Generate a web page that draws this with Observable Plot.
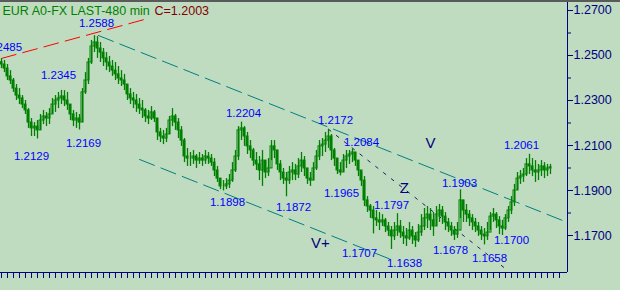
<!DOCTYPE html>
<html><head><meta charset="utf-8">
<script src="https://cdn.jsdelivr.net/npm/d3@7"></script>
<script src="https://cdn.jsdelivr.net/npm/@observablehq/plot@0.6"></script>
<style>
body{margin:0;background:#c0dcc0;}
#wrap{position:relative;width:620px;height:290px;overflow:hidden;background:#c0dcc0;}
#topline{position:absolute;left:0;top:0;width:620px;height:2px;background:#5a5a5a;}
svg{display:block}
</style></head><body><div id="wrap"><div id="topline"></div></div>
<script>
// ---- data: 480-min EUR bars (high / low / close) ----
const high = [1.2485,1.2478,1.2460,1.2433,1.2398,1.2371,1.2353,1.2322,1.2300,1.2264,
1.2220,1.2202,1.2211,1.2238,1.2256,1.2247,1.2264,1.2309,1.2322,1.2336,
1.2345,1.2344,1.2336,1.2282,1.2256,1.2247,1.2238,1.2353,1.2424,1.2487,
1.2567,1.2588,1.2584,1.2558,1.2531,1.2513,1.2496,1.2478,1.2469,1.2451,
1.2433,1.2416,1.2371,1.2353,1.2336,1.2327,1.2309,1.2300,1.2264,1.2256,
1.2273,1.2256,1.2184,1.2176,1.2167,1.2176,1.2229,1.2264,1.2238,1.2220,
1.2184,1.2131,1.2087,1.2069,1.2078,1.2060,1.2069,1.2060,1.2078,1.2069,
1.2060,1.2042,1.2007,1.1953,1.1944,1.1953,1.1971,1.2024,1.2078,1.2184,
1.2204,1.2184,1.2158,1.2122,1.2087,1.2069,1.2051,1.2078,1.2033,1.2042,
1.2122,1.2122,1.2078,1.2033,1.1998,1.1980,1.2007,1.2024,1.2016,1.2042,
1.2069,1.2051,1.1998,1.1980,1.2024,1.2078,1.2122,1.2131,1.2158,1.2172,
1.2149,1.2087,1.2042,1.2024,1.2060,1.2078,1.2078,1.2084,1.2069,1.2033,
1.1980,1.1962,1.1873,1.1838,1.1829,1.1811,1.1802,1.1793,1.1776,1.1758,
1.1740,1.1758,1.1797,1.1767,1.1740,1.1731,1.1758,1.1740,1.1713,1.1749,
1.1793,1.1820,1.1829,1.1820,1.1802,1.1829,1.1838,1.1829,1.1802,1.1776,
1.1758,1.1740,1.1758,1.1903,1.1856,1.1838,1.1811,1.1793,1.1776,1.1758,
1.1740,1.1731,1.1758,1.1802,1.1820,1.1802,1.1784,1.1767,1.1793,1.1829,
1.1873,1.1927,1.1980,1.1989,1.1998,1.2042,1.2061,1.2042,1.2033,1.2016,
1.2033,1.2024,1.2016,1.2016];
const low = [1.2442,1.2424,1.2389,1.2371,1.2336,1.2300,1.2282,1.2264,1.2238,1.2176,
1.2140,1.2140,1.2129,1.2167,1.2193,1.2184,1.2193,1.2238,1.2247,1.2264,
1.2282,1.2273,1.2256,1.2211,1.2184,1.2176,1.2169,1.2202,1.2327,1.2371,
1.2460,1.2513,1.2487,1.2469,1.2451,1.2433,1.2424,1.2407,1.2389,1.2371,
1.2362,1.2344,1.2300,1.2282,1.2264,1.2247,1.2238,1.2220,1.2202,1.2193,
1.2211,1.2202,1.2122,1.2113,1.2104,1.2113,1.2149,1.2184,1.2167,1.2131,
1.2096,1.2024,1.2007,1.2007,1.2016,1.1998,1.2016,1.2007,1.2016,1.2016,
1.2007,1.1962,1.1936,1.1904,1.1898,1.1904,1.1909,1.1936,1.1980,1.2033,
1.2122,1.2096,1.2060,1.2042,1.2007,1.1989,1.1944,1.1918,1.1953,1.1962,
1.2033,1.2042,1.1989,1.1944,1.1927,1.1872,1.1927,1.1944,1.1944,1.1953,
1.1980,1.1962,1.1927,1.1918,1.1944,1.1989,1.2033,1.2051,1.2069,1.2087,
1.2033,1.2007,1.1971,1.1965,1.1980,1.1998,1.2016,1.2024,1.2007,1.1962,
1.1918,1.1829,1.1802,1.1776,1.1707,1.1740,1.1722,1.1740,1.1713,1.1696,
1.1638,1.1678,1.1696,1.1687,1.1660,1.1651,1.1678,1.1660,1.1647,1.1669,
1.1696,1.1722,1.1731,1.1722,1.1696,1.1740,1.1758,1.1749,1.1722,1.1713,
1.1696,1.1678,1.1687,1.1776,1.1758,1.1758,1.1740,1.1722,1.1713,1.1696,
1.1678,1.1658,1.1678,1.1722,1.1758,1.1731,1.1704,1.1700,1.1722,1.1758,
1.1793,1.1829,1.1900,1.1927,1.1936,1.1962,1.1971,1.1962,1.1936,1.1944,
1.1962,1.1953,1.1962,1.1971];
const close = [1.2460,1.2442,1.2407,1.2389,1.2353,1.2322,1.2309,1.2282,1.2256,1.2202,
1.2176,1.2184,1.2167,1.2211,1.2229,1.2220,1.2238,1.2282,1.2300,1.2309,
1.2318,1.2300,1.2282,1.2238,1.2211,1.2220,1.2202,1.2336,1.2389,1.2469,
1.2540,1.2558,1.2531,1.2513,1.2487,1.2469,1.2451,1.2433,1.2416,1.2398,
1.2389,1.2371,1.2327,1.2309,1.2300,1.2282,1.2264,1.2256,1.2229,1.2220,
1.2247,1.2220,1.2158,1.2140,1.2131,1.2149,1.2211,1.2229,1.2202,1.2167,
1.2122,1.2051,1.2042,1.2042,1.2051,1.2033,1.2042,1.2033,1.2051,1.2042,
1.2024,1.1989,1.1953,1.1918,1.1918,1.1927,1.1944,1.1989,1.2051,1.2167,
1.2176,1.2140,1.2096,1.2078,1.2033,1.2016,1.1989,1.2033,1.1980,1.1998,
1.2096,1.2078,1.2016,1.1980,1.1953,1.1944,1.1980,1.1989,1.1971,1.2007,
1.2033,1.1998,1.1953,1.1944,1.1998,1.2051,1.2096,1.2104,1.2122,1.2140,
1.2078,1.2042,1.1989,1.1980,1.2033,1.2051,1.2060,1.2069,1.2033,1.1989,
1.1944,1.1856,1.1829,1.1811,1.1776,1.1767,1.1758,1.1767,1.1740,1.1722,
1.1696,1.1722,1.1740,1.1713,1.1696,1.1687,1.1722,1.1696,1.1678,1.1713,
1.1740,1.1776,1.1793,1.1767,1.1740,1.1793,1.1811,1.1784,1.1758,1.1740,
1.1722,1.1704,1.1722,1.1856,1.1811,1.1793,1.1776,1.1758,1.1740,1.1722,
1.1704,1.1696,1.1713,1.1784,1.1793,1.1767,1.1740,1.1731,1.1776,1.1811,
1.1847,1.1900,1.1953,1.1962,1.1971,1.2016,1.2007,1.1989,1.1980,1.1989,
1.2007,1.1989,1.1998,1.2003];
const firstOpen = 1.2470;

// ---- text ----
const titleText = "EUR A0-FX LAST-480 min";
const lastText = "C=1.2003";
const yTicks = [1.17, 1.19, 1.21, 1.23, 1.25, 1.27];
const yMinorTicks = [1.18, 1.20, 1.22, 1.24, 1.26];

// pivot labels: bar index and price
const pivotBars   = [0, 31, 20, 12, 26, 80, 74, 95, 109, 117, 113, 132, 124, 130, 151, 161, 167, 153, 176];
const pivotValues = [1.2485,1.2588,1.2345,1.2129,1.2169,1.2204,1.1898,1.1872,1.2172,1.2084,1.1965,1.1797,1.1707,1.1638,1.1678,1.1658,1.1700,1.1903,1.2061];
// label offsets (layout only)
const pivotDx = [3, 2, -3, -6, 4, 2, 4, 7, 7, 9, 1, -6, -14, 13, -4, 5, 9, -1, -8];
const pivotDy = [-12, -12, -15, 17, 13, -9, 11, 11, -9, -7, 17, -8, 19, 14, 10, 13, 5, -7, -9];

// trend lines (bar index, price)
const redLineBars = [0, 49], redLineValues = [1.2487, 1.2665];
const upperChannelBars = [32.3, 188.67], upperChannelValues = [1.2589, 1.1758];
const lowerChannelBars = [46, 130.3], lowerChannelValues = [1.2038, 1.1591];
const zLineBars = [109, 168.7], zLineValues = [1.2172, 1.1545];

// wave annotations
const waveNames = ["V", "Z", "V+"];
const waveBars = [143, 134.3, 106.3];
const waveValues = [1.2109, 1.1909, 1.1664];

// ---- build ----
const bars = close.map((c, i) => ({
  i, high: high[i], low: low[i], close: c,
  open: i === 0 ? firstOpen : close[i - 1]
}));
const pts = (b, v) => b.map((x, k) => ({i: x, v: v[k]}));
const xDomain = [-1/3, 188.667];
const yDomain = [1.153556, 1.274444];
const navy = "#000080";
const green = "#008000";

const marks = [
  Plot.line(pts(redLineBars, redLineValues), {x: "i", y: "v", stroke: "#ff0000", strokeWidth: 1, strokeDasharray: "15,7", clip: true}),
  Plot.line(pts(upperChannelBars, upperChannelValues), {x: "i", y: "v", stroke: "#008080", strokeWidth: 1, strokeDasharray: "16,7", clip: true}),
  Plot.line(pts(lowerChannelBars, lowerChannelValues), {x: "i", y: "v", stroke: "#008080", strokeWidth: 1, strokeDasharray: "16,7", clip: true}),
  Plot.line(pts(zLineBars, zLineValues), {x: "i", y: "v", stroke: "#202060", strokeWidth: 1, strokeDasharray: "3,7", clip: true}),
  Plot.ruleX(bars, {x: "i", y1: "low", y2: "high", stroke: green, strokeWidth: 1.3}),
  Plot.rect(bars, {x1: d => d.i - 1/3, x2: d => d.i + 1/3, y1: "open", y2: "close",
    stroke: green, strokeWidth: 1, fill: d => d.close >= d.open ? "none" : green}),
  Plot.ruleX([xDomain[1]], {stroke: navy, strokeWidth: 1}),
  Plot.ruleY([yDomain[0]], {stroke: navy, strokeWidth: 1}),
  Plot.axisY(yTicks, {anchor: "right", tickSize: 5, tickPadding: 1, tickFormat: d => d.toFixed(4),
    color: navy, fontSize: 12.5, label: null}),
  Plot.axisY(yMinorTicks, {anchor: "right", tickSize: 3, tickFormat: () => "", color: navy, label: null}),
  Plot.axisX(d3.range(0, 187, 2), {anchor: "bottom", tickSize: 6, tickFormat: () => "", color: navy, label: null}),
  Plot.text([titleText], {frameAnchor: "top-left", dx: 2, dy: 10, lineAnchor: "middle", textAnchor: "start",
    fill: green, fontSize: 12.5}),
  Plot.text([lastText], {frameAnchor: "top-left", dx: 154, dy: 10, lineAnchor: "middle", textAnchor: "start",
    fill: "#800000", fontSize: 12.5}),
  ...waveNames.map((t, k) => Plot.text([t], {x: () => waveBars[k], y: () => waveValues[k], text: d => d,
    fill: navy, fontSize: 15})),
  ...pivotBars.map((b, k) => Plot.text([pivotValues[k]], {x: () => b, y: d => d, text: d => d.toFixed(4),
    dx: pivotDx[k], dy: pivotDy[k], fill: "#0000ff", fontSize: 11.5}))
];

const chart = Plot.plot({
  width: 620, height: 290,
  marginLeft: 0, marginRight: 53, marginTop: 0, marginBottom: 18,
  x: {domain: xDomain, label: null},
  y: {domain: yDomain, label: null},
  style: {background: "#c0dcc0", fontFamily: "'Liberation Sans', Arial, sans-serif", overflow: "hidden"},
  marks
});
document.getElementById("wrap").prepend(chart);
</script></body></html>
